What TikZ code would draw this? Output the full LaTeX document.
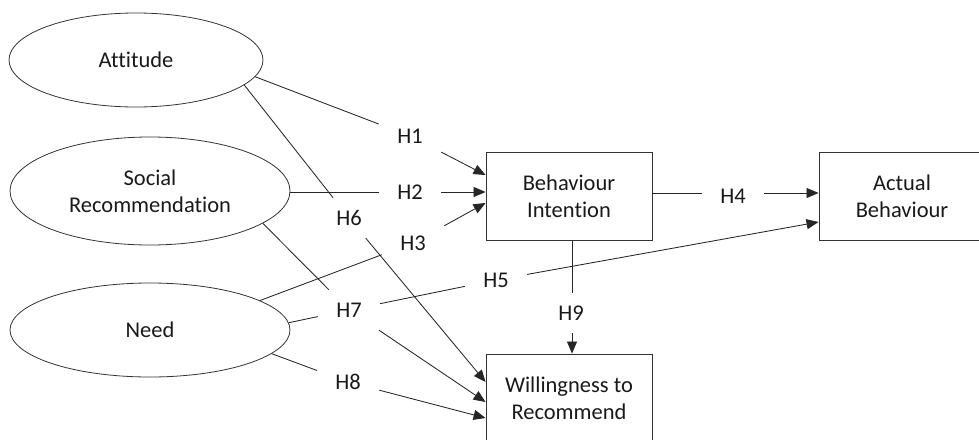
\documentclass[tikz,border=0pt]{standalone}
\usepackage{fontspec}
\setmainfont{Carlito}[Ligatures={NoCommon}]
\usetikzlibrary{shapes.geometric,arrows.meta}
\begin{document}
\begin{tikzpicture}[x=1pt,y=-1pt,
  every node/.style={font=\fontsize{22.5}{27}\selectfont, text=black!90},
  latent/.style={ellipse, draw=black!80, line width=0.8pt, inner sep=0pt, align=center},
  construct/.style={rectangle, draw=black!80, line width=0.9pt, minimum width=166pt, minimum height=88pt, inner sep=0pt, align=center},
  hyp/.style={rectangle, minimum width=62pt, minimum height=40pt, inner sep=0pt},
  link/.style={draw=black!85, line width=0.85pt},
  arr/.style={link, -{Triangle[length=12pt,width=10pt]}}]
\useasboundingbox (0,0) rectangle (979,439);
\begin{scope}
\clip (0,0) rectangle (979,439);
% latent variables
\node[latent, minimum width=254pt, minimum height=94pt] (att) at (136,60) {Attitude};
\node[latent, minimum width=280pt, minimum height=108pt] (soc) at (150,191) {Social\\Recommendation};
\node[latent, minimum width=280pt, minimum height=94pt] (need) at (150,330) {Need};
% constructs
\node[construct] (bi) at (569,196) {Behaviour\\Intention};
\node[construct] (ab) at (902,196) {Actual\\Behaviour};
\node[construct] (wr) at (569,398) {Willingness to\\Recommend};
% hypothesis labels
\node[hyp] (h1) at (410,136) {H1};
\node[hyp] (h2) at (410,192) {H2};
\node[hyp] (h3) at (413,243) {H3};
\node[hyp] (h4) at (733,196) {H4};
\node[hyp] (h5) at (496,280) {H5};
\node[hyp] (h6) at (349,218) {H6};
\node[hyp] (h7) at (349,310) {H7};
\node[hyp] (h8) at (348,382) {H8};
\node[hyp] (h9) at (571,313) {H9};
% H1
\draw[link] (att.-8) -- (h1);
\draw[arr] (h1) -- ([yshift=21pt]bi.west);
% H2
\draw[link] (soc.east |- h2) -- (h2);
\draw[arr] (h2) -- ([yshift=4pt]bi.west);
% H3
\draw[link] (need.15) -- (h3);
\draw[arr] (h3) -- ([yshift=-7pt]bi.west);
% H4
\draw[link] ([yshift=3pt]bi.east) -- ([yshift=3pt]h4.west);
\draw[arr] ([yshift=3pt]h4.east) -- ([yshift=3pt]ab.west);
% H5
\draw[link] (need.3) -- (h7);
\draw[link] (h7) -- (h5);
\draw[arr] (h5) -- ([yshift=-26pt]ab.west);
% H6
\draw[link] (att.-13) -- (h6);
\draw[arr] (h6) -- ([yshift=16pt]wr.west);
% H7
\draw[link] (soc.-16) -- (h7);
\draw[arr] (h7) -- ([yshift=-4pt]wr.west);
% H8
\draw[link] (need.-11) -- (h8);
\draw[arr] (h8) -- ([yshift=-20pt]wr.west);
% H9
\draw[link] ([xshift=3pt]bi.south) -- ([xshift=1pt]h9.north);
\draw[arr] ([xshift=1pt]h9.south) -- ([xshift=3pt]wr.north);
\end{scope}
\end{tikzpicture}
\end{document}
